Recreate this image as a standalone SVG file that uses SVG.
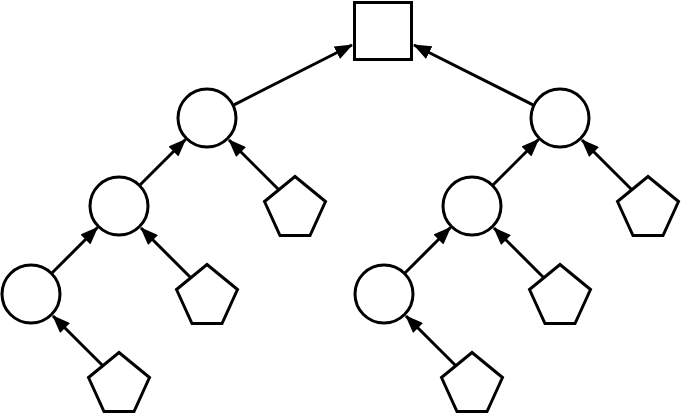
<svg xmlns="http://www.w3.org/2000/svg" width="681" height="415" viewBox="0 0 681 415">
<style>
.s{fill:#fff;stroke:#000;stroke-width:3}
.e{stroke:#000;stroke-width:3;fill:none;marker-end:url(#a)}
</style>
<defs>
<marker id="a" markerUnits="userSpaceOnUse" markerWidth="18" markerHeight="14" viewBox="0 0 18 14" refX="17" refY="7" orient="auto">
<path d="M0,0 L18,7 L0,14 Z" fill="#000"/>
</marker>
<polygon id="pg" points="0,-29.5 30.5,-4.5 15,29.5 -15,29.5 -30.5,-4.5" class="s"/>
</defs>
<rect width="681" height="415" fill="#fff"/>
<g id="connectors">
<line class="e" x1="234" y1="104.8" x2="352" y2="45"/>
<line class="e" x1="533" y1="104.8" x2="414" y2="45"/>
<line class="e" x1="140.2" y1="184.8" x2="185.5" y2="139.5"/>
<line class="e" x1="52.2" y1="272.8" x2="97.5" y2="227.5"/>
<line class="e" x1="493.2" y1="184.8" x2="538.5" y2="139.5"/>
<line class="e" x1="405.2" y1="272.8" x2="450.5" y2="227.5"/>
<line class="e" x1="278.8" y1="189.8" x2="229" y2="140"/>
<line class="e" x1="190.8" y1="277.8" x2="141" y2="228"/>
<line class="e" x1="102.8" y1="365.8" x2="53" y2="316"/>
<line class="e" x1="631.8" y1="189.8" x2="582" y2="140"/>
<line class="e" x1="543.8" y1="277.8" x2="494" y2="228"/>
<line class="e" x1="455.8" y1="365.8" x2="406" y2="316"/>
</g>
<g id="root"><rect class="s" x="354.5" y="2.5" width="57" height="57"/></g>
<g id="c1"><circle class="s" cx="207" cy="118" r="29"/></g>
<g id="c2"><circle class="s" cx="119" cy="206" r="29"/></g>
<g id="c3"><circle class="s" cx="31" cy="294" r="29"/></g>
<g id="c4"><circle class="s" cx="560" cy="118" r="29"/></g>
<g id="c5"><circle class="s" cx="472" cy="206" r="29"/></g>
<g id="c6"><circle class="s" cx="384" cy="294" r="29"/></g>
<g id="p1"><use href="#pg" x="295" y="206"/></g>
<g id="p2"><use href="#pg" x="207" y="294"/></g>
<g id="p3"><use href="#pg" x="119" y="382"/></g>
<g id="p4"><use href="#pg" x="648" y="206"/></g>
<g id="p5"><use href="#pg" x="560" y="294"/></g>
<g id="p6"><use href="#pg" x="472" y="382"/></g>
</svg>
